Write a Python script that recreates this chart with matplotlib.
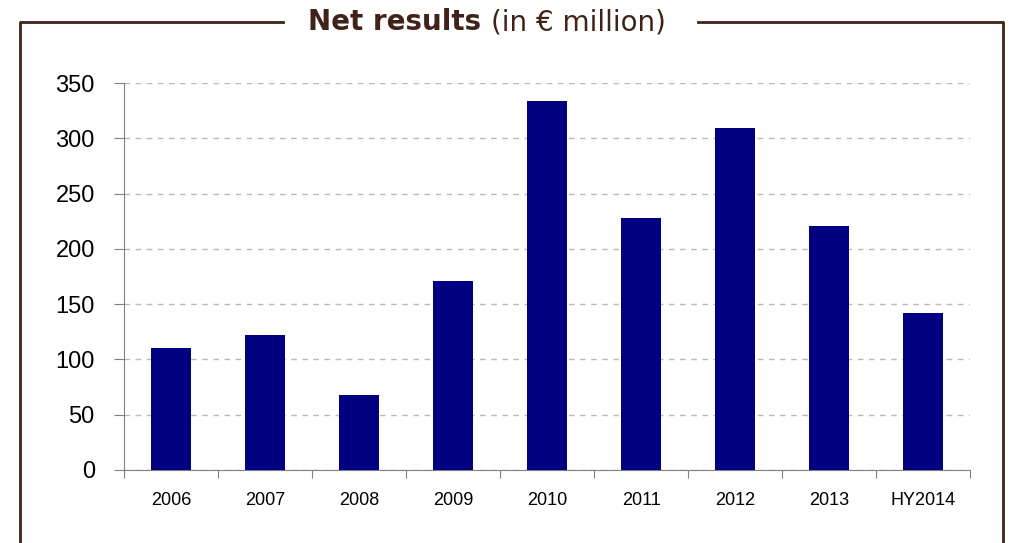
import matplotlib.pyplot as plt
import matplotlib.lines as mlines
import numpy as np

categories = ['2006', '2007', '2008', '2009', '2010', '2011', '2012', '2013', 'HY2014']
net_results = [110, 122, 68, 171, 334, 228, 309, 221, 142]

W, H = 1013, 543
fig = plt.figure(figsize=(W / 100, H / 100), dpi=100)
ax = fig.add_axes([124 / W, 1 - 470 / H, (970 - 124) / W, (470 - 83) / H])

x = np.arange(len(categories))
ax.bar(x, net_results, width=0.42, color='#000080', zorder=3)

ax.set_xlim(-0.5, len(categories) - 0.5)
ax.set_ylim(0, 350)
ax.set_yticks(np.arange(0, 351, 50))
ax.yaxis.grid(True, color='#b8b8b8', linestyle=(0, (4, 4)), linewidth=1)
ax.set_axisbelow(True)

# category labels between boundary ticks
ax.set_xticks(np.arange(-0.5, len(categories), 1))
ax.set_xticklabels([])
ax.set_xticks(x, minor=True)
ax.set_xticklabels(categories, minor=True, fontsize=13, family='Liberation Sans')
ax.tick_params(axis='x', which='minor', length=0, pad=16)
ax.tick_params(axis='x', which='major', length=6, color='#808080', direction='out')
ax.tick_params(axis='y', length=7, color='#808080', labelsize=17, pad=14)
for lab in ax.get_yticklabels():
    lab.set_family('Liberation Sans')

for s in ['top', 'right']:
    ax.spines[s].set_visible(False)
ax.spines['left'].set_color('#808080')
ax.spines['bottom'].set_color('#808080')

# brown frame with title gap
frame = '#3f2318'
yt = 1 - 22 / H
fig.add_artist(mlines.Line2D([20 / W, 20 / W, 283 / W], [0, yt, yt], color=frame, lw=2))
fig.add_artist(mlines.Line2D([698 / W, 1003 / W, 1003 / W], [yt, yt, 0], color=frame, lw=2))

yb = 1 - 30 / H
fig.text(481 / W, yb, 'Net results', fontsize=20, fontweight='bold', color=frame,
         ha='right', va='baseline', family='DejaVu Sans')
fig.text(491 / W, yb, '(in € million)', fontsize=20, color=frame, ha='left', va='baseline',
         family='DejaVu Sans')

fig.savefig('out.png', dpi=100)
